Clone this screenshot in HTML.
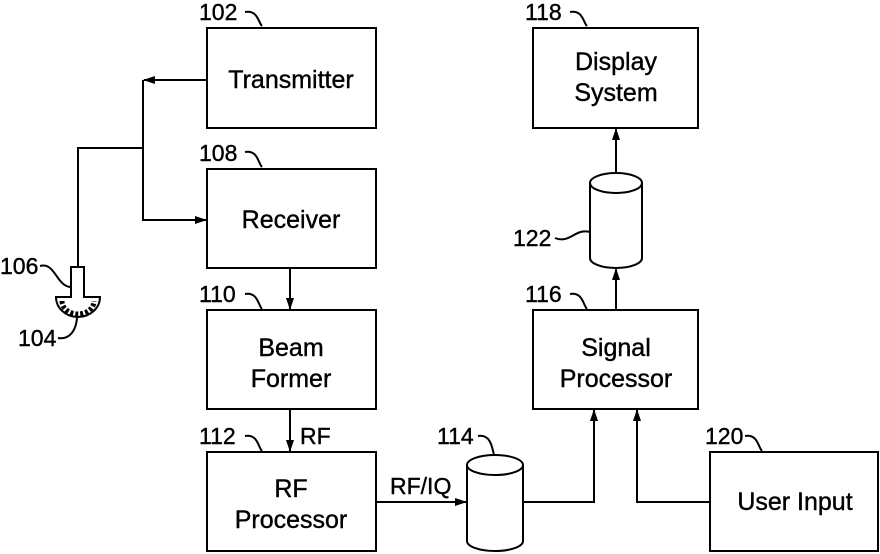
<!DOCTYPE html>
<html><head><style>body{margin:0;background:#fff}svg{display:block}text{font-family:"Liberation Sans",Arial,sans-serif;fill:#000;stroke:#000;stroke-width:0.4}</style></head><body>
<svg width="880" height="554" viewBox="0 0 880 554" xmlns="http://www.w3.org/2000/svg">
<defs><marker id="a" markerWidth="12" markerHeight="8" refX="11" refY="4" orient="auto" markerUnits="userSpaceOnUse"><path d="M0,0 L12,4 L0,8 Z" fill="#000"/></marker></defs>
<g fill="none" stroke="#000" stroke-width="2">
<rect x="207" y="28" width="169" height="100"/>
<rect x="207" y="169" width="169" height="99"/>
<rect x="207" y="310" width="169" height="99"/>
<rect x="207" y="452" width="169" height="99"/>
<rect x="533" y="28" width="165" height="100"/>
<rect x="533" y="310" width="165" height="99"/>
<rect x="710" y="452" width="168" height="99"/>
<path d="M590,183 L590,258 A26,10 0 0 0 642,258 L642,183"/>
<ellipse cx="616" cy="183" rx="26" ry="10"/>
<path d="M467,465 L467,541 A28,10 0 0 0 523,541 L523,465"/>
<ellipse cx="495" cy="465" rx="28" ry="10"/>
<path d="M207,80 L144,80" marker-end="url(#a)"/>
<path d="M143,80 L143,220 L206,220" marker-end="url(#a)"/>
<path d="M143,148 L78,148 L78,267"/>
<path d="M290,268 L290,309" marker-end="url(#a)"/>
<path d="M290,409 L290,451" marker-end="url(#a)"/>
<path d="M376,502 L466,502" marker-end="url(#a)"/>
<path d="M523,502 L594,502 L594,410" marker-end="url(#a)"/>
<path d="M710,502 L637,502 L637,410" marker-end="url(#a)"/>
<path d="M616,310 L616,269" marker-end="url(#a)"/>
<path d="M616,172 L616,129" marker-end="url(#a)"/>
<path d="M71,267 L84,267 L84,297 L100,297 A22,20 0 0 1 56,297 L71,297 Z"/>
<path d="M62,301 A16,13 0 0 0 94,301" stroke-dasharray="3 2" stroke-width="5"/>
<path d="M245,12 C258,10 258,22 262,26"/>
<path d="M245,152 C258,150 258,163 262,167"/>
<path d="M245,294 C258,292 258,305 262,309"/>
<path d="M245,436 C258,434 258,447 262,451"/>
<path d="M570,12 C583,10 583,22 587,26"/>
<path d="M570,294 C583,292 583,305 587,309"/>
<path d="M745,436 C758,434 758,447 762,451"/>
<path d="M478,436 C490,434 492,446 494,455"/>
<path d="M555,238 C570,244 575,228 590,232"/>
<path d="M40,266 C55,262 56,285 70,287"/>
<path d="M58,338 C70,340 76,330 77,318"/>
</g>
<g font-size="25" text-anchor="middle">
<text x="291" y="88">Transmitter</text>
<text x="291" y="228">Receiver</text>
<text x="291" y="356">Beam</text>
<text x="291" y="387">Former</text>
<text x="291" y="497">RF</text>
<text x="291" y="528">Processor</text>
<text x="616" y="70">Display</text>
<text x="616" y="101">System</text>
<text x="616" y="356">Signal</text>
<text x="616" y="387">Processor</text>
<text x="795" y="510">User Input</text>
</g>
<g font-size="23">
<text x="199" y="20">102</text>
<text x="199" y="161">108</text>
<text x="199" y="302">110</text>
<text x="199" y="444">112</text>
<text x="525" y="20">118</text>
<text x="525" y="302">116</text>
<text x="705" y="444">120</text>
<text x="437" y="444">114</text>
<text x="513" y="246">122</text>
<text x="0" y="274">106</text>
<text x="18" y="346">104</text>
<text x="300" y="444">RF</text>
<text x="390" y="494">RF/IQ</text>
</g>
</svg>
</body></html>
